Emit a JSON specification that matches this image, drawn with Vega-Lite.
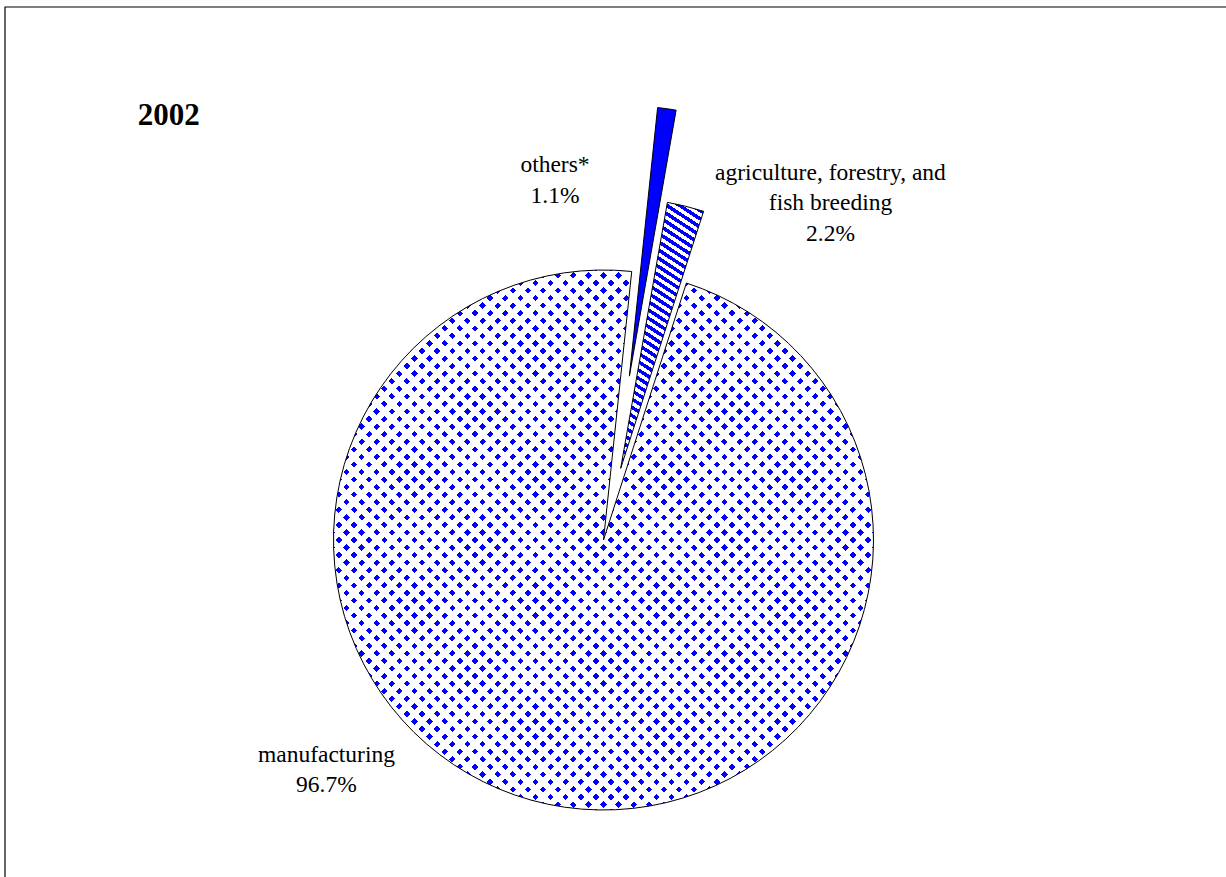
{
"$schema": "https://vega.github.io/schema/vega-lite/v6.json",
"width": 1221,
"height": 870,
"padding": {"left": 5, "top": 7, "right": 0, "bottom": 0},
"autosize": {"type": "none"},
"background": "white",
"config": {"view": {"stroke": null}},
"title": {"text": "2002", "anchor": "start", "frame": "group", "orient": "top", "offset": 0, "baseline": "alphabetic", "dx": 132.7, "dy": 149.7, "font": "Liberation Serif", "fontSize": 31, "fontWeight": "bold", "color": "#000"},
"data": {"values": [
{"category": "others*", "share": 1.1},
{"category": "agriculture, forestry, and fish breeding", "share": 2.2},
{"category": "manufacturing", "share": 96.7}
]},
"transform": [
{"stack": "share", "groupby": [], "sort": [{"field": "share", "order": "ascending"}], "as": ["v0", "v1"]},
{"calculate": "(datum.v0 + datum.v1) / 2", "as": "mid"},
{"calculate": "replace(datum.category, 'and fish', 'and\\nfish') + '\\n' + format(datum.share, '.1f') + '%'", "as": "label"}
],
"layer": [
{
"data": {"values": [{"frame": "border"}]},
"mark": {"type": "rect", "fill": "#fff", "fillOpacity": 0, "stroke": "#000", "strokeWidth": 1.2, "x2Offset": 4, "y2Offset": 4},
"encoding": {
"x": {"value": 0},
"x2": {"value": "width"},
"y": {"value": 0},
"y2": {"value": "height"}
}
},
{
"transform": [{"filter": "datum.category === 'manufacturing'"}],
"mark": {"type": "arc", "radius": 270, "xOffset": -12, "yOffset": 98, "strokeWidth": 0,
"fill": {"gradient": "linear", "x1": 0, "y1": 0, "x2": 1, "y2": 1, "stops": [
{"offset":0,"color":"#00f"},{"offset":0.006,"color":"#00f"},{"offset":0.006,"color":"#fff"},{"offset":0.014,"color":"#fff"},
{"offset":0.014,"color":"#00f"},{"offset":0.02,"color":"#00f"},{"offset":0.02,"color":"#fff"},{"offset":0.028,"color":"#fff"},
{"offset":0.028,"color":"#00f"},{"offset":0.034,"color":"#00f"},{"offset":0.034,"color":"#fff"},{"offset":0.042,"color":"#fff"},
{"offset":0.042,"color":"#00f"},{"offset":0.048,"color":"#00f"},{"offset":0.048,"color":"#fff"},{"offset":0.056,"color":"#fff"},
{"offset":0.056,"color":"#00f"},{"offset":0.062,"color":"#00f"},{"offset":0.062,"color":"#fff"},{"offset":0.07,"color":"#fff"},
{"offset":0.07,"color":"#00f"},{"offset":0.076,"color":"#00f"},{"offset":0.076,"color":"#fff"},{"offset":0.084,"color":"#fff"},
{"offset":0.084,"color":"#00f"},{"offset":0.09,"color":"#00f"},{"offset":0.09,"color":"#fff"},{"offset":0.098,"color":"#fff"},
{"offset":0.098,"color":"#00f"},{"offset":0.104,"color":"#00f"},{"offset":0.104,"color":"#fff"},{"offset":0.112,"color":"#fff"},
{"offset":0.112,"color":"#00f"},{"offset":0.118,"color":"#00f"},{"offset":0.118,"color":"#fff"},{"offset":0.126,"color":"#fff"},
{"offset":0.126,"color":"#00f"},{"offset":0.132,"color":"#00f"},{"offset":0.132,"color":"#fff"},{"offset":0.14,"color":"#fff"},
{"offset":0.14,"color":"#00f"},{"offset":0.146,"color":"#00f"},{"offset":0.146,"color":"#fff"},{"offset":0.154,"color":"#fff"},
{"offset":0.154,"color":"#00f"},{"offset":0.16,"color":"#00f"},{"offset":0.16,"color":"#fff"},{"offset":0.168,"color":"#fff"},
{"offset":0.168,"color":"#00f"},{"offset":0.174,"color":"#00f"},{"offset":0.174,"color":"#fff"},{"offset":0.182,"color":"#fff"},
{"offset":0.182,"color":"#00f"},{"offset":0.188,"color":"#00f"},{"offset":0.188,"color":"#fff"},{"offset":0.196,"color":"#fff"},
{"offset":0.196,"color":"#00f"},{"offset":0.202,"color":"#00f"},{"offset":0.202,"color":"#fff"},{"offset":0.21,"color":"#fff"},
{"offset":0.21,"color":"#00f"},{"offset":0.216,"color":"#00f"},{"offset":0.216,"color":"#fff"},{"offset":0.224,"color":"#fff"},
{"offset":0.224,"color":"#00f"},{"offset":0.23,"color":"#00f"},{"offset":0.23,"color":"#fff"},{"offset":0.238,"color":"#fff"},
{"offset":0.238,"color":"#00f"},{"offset":0.244,"color":"#00f"},{"offset":0.244,"color":"#fff"},{"offset":0.252,"color":"#fff"},
{"offset":0.252,"color":"#00f"},{"offset":0.258,"color":"#00f"},{"offset":0.258,"color":"#fff"},{"offset":0.266,"color":"#fff"},
{"offset":0.266,"color":"#00f"},{"offset":0.272,"color":"#00f"},{"offset":0.272,"color":"#fff"},{"offset":0.28,"color":"#fff"},
{"offset":0.28,"color":"#00f"},{"offset":0.286,"color":"#00f"},{"offset":0.286,"color":"#fff"},{"offset":0.294,"color":"#fff"},
{"offset":0.294,"color":"#00f"},{"offset":0.3,"color":"#00f"},{"offset":0.3,"color":"#fff"},{"offset":0.308,"color":"#fff"},
{"offset":0.308,"color":"#00f"},{"offset":0.314,"color":"#00f"},{"offset":0.314,"color":"#fff"},{"offset":0.322,"color":"#fff"},
{"offset":0.322,"color":"#00f"},{"offset":0.328,"color":"#00f"},{"offset":0.328,"color":"#fff"},{"offset":0.336,"color":"#fff"},
{"offset":0.336,"color":"#00f"},{"offset":0.342,"color":"#00f"},{"offset":0.342,"color":"#fff"},{"offset":0.35,"color":"#fff"},
{"offset":0.35,"color":"#00f"},{"offset":0.356,"color":"#00f"},{"offset":0.356,"color":"#fff"},{"offset":0.364,"color":"#fff"},
{"offset":0.364,"color":"#00f"},{"offset":0.37,"color":"#00f"},{"offset":0.37,"color":"#fff"},{"offset":0.378,"color":"#fff"},
{"offset":0.378,"color":"#00f"},{"offset":0.384,"color":"#00f"},{"offset":0.384,"color":"#fff"},{"offset":0.392,"color":"#fff"},
{"offset":0.392,"color":"#00f"},{"offset":0.398,"color":"#00f"},{"offset":0.398,"color":"#fff"},{"offset":0.406,"color":"#fff"},
{"offset":0.406,"color":"#00f"},{"offset":0.412,"color":"#00f"},{"offset":0.412,"color":"#fff"},{"offset":0.42,"color":"#fff"},
{"offset":0.42,"color":"#00f"},{"offset":0.426,"color":"#00f"},{"offset":0.426,"color":"#fff"},{"offset":0.434,"color":"#fff"},
{"offset":0.434,"color":"#00f"},{"offset":0.44,"color":"#00f"},{"offset":0.44,"color":"#fff"},{"offset":0.448,"color":"#fff"},
{"offset":0.448,"color":"#00f"},{"offset":0.454,"color":"#00f"},{"offset":0.454,"color":"#fff"},{"offset":0.462,"color":"#fff"},
{"offset":0.462,"color":"#00f"},{"offset":0.468,"color":"#00f"},{"offset":0.468,"color":"#fff"},{"offset":0.476,"color":"#fff"},
{"offset":0.476,"color":"#00f"},{"offset":0.482,"color":"#00f"},{"offset":0.482,"color":"#fff"},{"offset":0.49,"color":"#fff"},
{"offset":0.49,"color":"#00f"},{"offset":0.496,"color":"#00f"},{"offset":0.496,"color":"#fff"},{"offset":0.504,"color":"#fff"},
{"offset":0.504,"color":"#00f"},{"offset":0.51,"color":"#00f"},{"offset":0.51,"color":"#fff"},{"offset":0.518,"color":"#fff"},
{"offset":0.518,"color":"#00f"},{"offset":0.524,"color":"#00f"},{"offset":0.524,"color":"#fff"},{"offset":0.532,"color":"#fff"},
{"offset":0.532,"color":"#00f"},{"offset":0.538,"color":"#00f"},{"offset":0.538,"color":"#fff"},{"offset":0.546,"color":"#fff"},
{"offset":0.546,"color":"#00f"},{"offset":0.552,"color":"#00f"},{"offset":0.552,"color":"#fff"},{"offset":0.56,"color":"#fff"},
{"offset":0.56,"color":"#00f"},{"offset":0.566,"color":"#00f"},{"offset":0.566,"color":"#fff"},{"offset":0.574,"color":"#fff"},
{"offset":0.574,"color":"#00f"},{"offset":0.58,"color":"#00f"},{"offset":0.58,"color":"#fff"},{"offset":0.588,"color":"#fff"},
{"offset":0.588,"color":"#00f"},{"offset":0.594,"color":"#00f"},{"offset":0.594,"color":"#fff"},{"offset":0.602,"color":"#fff"},
{"offset":0.602,"color":"#00f"},{"offset":0.608,"color":"#00f"},{"offset":0.608,"color":"#fff"},{"offset":0.616,"color":"#fff"},
{"offset":0.616,"color":"#00f"},{"offset":0.622,"color":"#00f"},{"offset":0.622,"color":"#fff"},{"offset":0.63,"color":"#fff"},
{"offset":0.63,"color":"#00f"},{"offset":0.636,"color":"#00f"},{"offset":0.636,"color":"#fff"},{"offset":0.644,"color":"#fff"},
{"offset":0.644,"color":"#00f"},{"offset":0.65,"color":"#00f"},{"offset":0.65,"color":"#fff"},{"offset":0.658,"color":"#fff"},
{"offset":0.658,"color":"#00f"},{"offset":0.664,"color":"#00f"},{"offset":0.664,"color":"#fff"},{"offset":0.672,"color":"#fff"},
{"offset":0.672,"color":"#00f"},{"offset":0.678,"color":"#00f"},{"offset":0.678,"color":"#fff"},{"offset":0.686,"color":"#fff"},
{"offset":0.686,"color":"#00f"},{"offset":0.692,"color":"#00f"},{"offset":0.692,"color":"#fff"},{"offset":0.7,"color":"#fff"},
{"offset":0.7,"color":"#00f"},{"offset":0.706,"color":"#00f"},{"offset":0.706,"color":"#fff"},{"offset":0.714,"color":"#fff"},
{"offset":0.714,"color":"#00f"},{"offset":0.72,"color":"#00f"},{"offset":0.72,"color":"#fff"},{"offset":0.728,"color":"#fff"},
{"offset":0.728,"color":"#00f"},{"offset":0.734,"color":"#00f"},{"offset":0.734,"color":"#fff"},{"offset":0.742,"color":"#fff"},
{"offset":0.742,"color":"#00f"},{"offset":0.748,"color":"#00f"},{"offset":0.748,"color":"#fff"},{"offset":0.756,"color":"#fff"},
{"offset":0.756,"color":"#00f"},{"offset":0.762,"color":"#00f"},{"offset":0.762,"color":"#fff"},{"offset":0.77,"color":"#fff"},
{"offset":0.77,"color":"#00f"},{"offset":0.776,"color":"#00f"},{"offset":0.776,"color":"#fff"},{"offset":0.784,"color":"#fff"},
{"offset":0.784,"color":"#00f"},{"offset":0.79,"color":"#00f"},{"offset":0.79,"color":"#fff"},{"offset":0.798,"color":"#fff"},
{"offset":0.798,"color":"#00f"},{"offset":0.804,"color":"#00f"},{"offset":0.804,"color":"#fff"},{"offset":0.812,"color":"#fff"},
{"offset":0.812,"color":"#00f"},{"offset":0.818,"color":"#00f"},{"offset":0.818,"color":"#fff"},{"offset":0.826,"color":"#fff"},
{"offset":0.826,"color":"#00f"},{"offset":0.832,"color":"#00f"},{"offset":0.832,"color":"#fff"},{"offset":0.84,"color":"#fff"},
{"offset":0.84,"color":"#00f"},{"offset":0.846,"color":"#00f"},{"offset":0.846,"color":"#fff"},{"offset":0.854,"color":"#fff"},
{"offset":0.854,"color":"#00f"},{"offset":0.86,"color":"#00f"},{"offset":0.86,"color":"#fff"},{"offset":0.868,"color":"#fff"},
{"offset":0.868,"color":"#00f"},{"offset":0.874,"color":"#00f"},{"offset":0.874,"color":"#fff"},{"offset":0.882,"color":"#fff"},
{"offset":0.882,"color":"#00f"},{"offset":0.888,"color":"#00f"},{"offset":0.888,"color":"#fff"},{"offset":0.896,"color":"#fff"},
{"offset":0.896,"color":"#00f"},{"offset":0.902,"color":"#00f"},{"offset":0.902,"color":"#fff"},{"offset":0.91,"color":"#fff"},
{"offset":0.91,"color":"#00f"},{"offset":0.916,"color":"#00f"},{"offset":0.916,"color":"#fff"},{"offset":0.924,"color":"#fff"},
{"offset":0.924,"color":"#00f"},{"offset":0.93,"color":"#00f"},{"offset":0.93,"color":"#fff"},{"offset":0.938,"color":"#fff"},
{"offset":0.938,"color":"#00f"},{"offset":0.944,"color":"#00f"},{"offset":0.944,"color":"#fff"},{"offset":0.952,"color":"#fff"},
{"offset":0.952,"color":"#00f"},{"offset":0.958,"color":"#00f"},{"offset":0.958,"color":"#fff"},{"offset":0.966,"color":"#fff"},
{"offset":0.966,"color":"#00f"},{"offset":0.972,"color":"#00f"},{"offset":0.972,"color":"#fff"},{"offset":0.98,"color":"#fff"},
{"offset":0.98,"color":"#00f"},{"offset":0.986,"color":"#00f"},{"offset":0.986,"color":"#fff"},{"offset":0.994,"color":"#fff"},
{"offset":0.994,"color":"#00f"},{"offset":1,"color":"#00f"}
]}},
"encoding": {
"theta": {"field": "v0", "type": "quantitative", "stack": null, "scale": {"domain": [0, 100], "range": [0.10472, 6.38791]}},
"theta2": {"field": "v1"}
}
},
{
"transform": [{"filter": "datum.category === 'manufacturing'"}],
"mark": {"type": "arc", "radius": 270, "xOffset": -12, "yOffset": 98, "stroke": "#000", "strokeWidth": 1,
"fill": {"gradient": "linear", "x1": 1, "y1": 0, "x2": 0, "y2": 1, "stops": [
{"offset":0,"color":"rgba(255,255,255,0)"},{"offset":0.006,"color":"rgba(255,255,255,0)"},{"offset":0.006,"color":"#fff"},{"offset":0.014,"color":"#fff"},
{"offset":0.014,"color":"rgba(255,255,255,0)"},{"offset":0.02,"color":"rgba(255,255,255,0)"},{"offset":0.02,"color":"#fff"},{"offset":0.028,"color":"#fff"},
{"offset":0.028,"color":"rgba(255,255,255,0)"},{"offset":0.034,"color":"rgba(255,255,255,0)"},{"offset":0.034,"color":"#fff"},{"offset":0.042,"color":"#fff"},
{"offset":0.042,"color":"rgba(255,255,255,0)"},{"offset":0.048,"color":"rgba(255,255,255,0)"},{"offset":0.048,"color":"#fff"},{"offset":0.056,"color":"#fff"},
{"offset":0.056,"color":"rgba(255,255,255,0)"},{"offset":0.062,"color":"rgba(255,255,255,0)"},{"offset":0.062,"color":"#fff"},{"offset":0.07,"color":"#fff"},
{"offset":0.07,"color":"rgba(255,255,255,0)"},{"offset":0.076,"color":"rgba(255,255,255,0)"},{"offset":0.076,"color":"#fff"},{"offset":0.084,"color":"#fff"},
{"offset":0.084,"color":"rgba(255,255,255,0)"},{"offset":0.09,"color":"rgba(255,255,255,0)"},{"offset":0.09,"color":"#fff"},{"offset":0.098,"color":"#fff"},
{"offset":0.098,"color":"rgba(255,255,255,0)"},{"offset":0.104,"color":"rgba(255,255,255,0)"},{"offset":0.104,"color":"#fff"},{"offset":0.112,"color":"#fff"},
{"offset":0.112,"color":"rgba(255,255,255,0)"},{"offset":0.118,"color":"rgba(255,255,255,0)"},{"offset":0.118,"color":"#fff"},{"offset":0.126,"color":"#fff"},
{"offset":0.126,"color":"rgba(255,255,255,0)"},{"offset":0.132,"color":"rgba(255,255,255,0)"},{"offset":0.132,"color":"#fff"},{"offset":0.14,"color":"#fff"},
{"offset":0.14,"color":"rgba(255,255,255,0)"},{"offset":0.146,"color":"rgba(255,255,255,0)"},{"offset":0.146,"color":"#fff"},{"offset":0.154,"color":"#fff"},
{"offset":0.154,"color":"rgba(255,255,255,0)"},{"offset":0.16,"color":"rgba(255,255,255,0)"},{"offset":0.16,"color":"#fff"},{"offset":0.168,"color":"#fff"},
{"offset":0.168,"color":"rgba(255,255,255,0)"},{"offset":0.174,"color":"rgba(255,255,255,0)"},{"offset":0.174,"color":"#fff"},{"offset":0.182,"color":"#fff"},
{"offset":0.182,"color":"rgba(255,255,255,0)"},{"offset":0.188,"color":"rgba(255,255,255,0)"},{"offset":0.188,"color":"#fff"},{"offset":0.196,"color":"#fff"},
{"offset":0.196,"color":"rgba(255,255,255,0)"},{"offset":0.202,"color":"rgba(255,255,255,0)"},{"offset":0.202,"color":"#fff"},{"offset":0.21,"color":"#fff"},
{"offset":0.21,"color":"rgba(255,255,255,0)"},{"offset":0.216,"color":"rgba(255,255,255,0)"},{"offset":0.216,"color":"#fff"},{"offset":0.224,"color":"#fff"},
{"offset":0.224,"color":"rgba(255,255,255,0)"},{"offset":0.23,"color":"rgba(255,255,255,0)"},{"offset":0.23,"color":"#fff"},{"offset":0.238,"color":"#fff"},
{"offset":0.238,"color":"rgba(255,255,255,0)"},{"offset":0.244,"color":"rgba(255,255,255,0)"},{"offset":0.244,"color":"#fff"},{"offset":0.252,"color":"#fff"},
{"offset":0.252,"color":"rgba(255,255,255,0)"},{"offset":0.258,"color":"rgba(255,255,255,0)"},{"offset":0.258,"color":"#fff"},{"offset":0.266,"color":"#fff"},
{"offset":0.266,"color":"rgba(255,255,255,0)"},{"offset":0.272,"color":"rgba(255,255,255,0)"},{"offset":0.272,"color":"#fff"},{"offset":0.28,"color":"#fff"},
{"offset":0.28,"color":"rgba(255,255,255,0)"},{"offset":0.286,"color":"rgba(255,255,255,0)"},{"offset":0.286,"color":"#fff"},{"offset":0.294,"color":"#fff"},
{"offset":0.294,"color":"rgba(255,255,255,0)"},{"offset":0.3,"color":"rgba(255,255,255,0)"},{"offset":0.3,"color":"#fff"},{"offset":0.308,"color":"#fff"},
{"offset":0.308,"color":"rgba(255,255,255,0)"},{"offset":0.314,"color":"rgba(255,255,255,0)"},{"offset":0.314,"color":"#fff"},{"offset":0.322,"color":"#fff"},
{"offset":0.322,"color":"rgba(255,255,255,0)"},{"offset":0.328,"color":"rgba(255,255,255,0)"},{"offset":0.328,"color":"#fff"},{"offset":0.336,"color":"#fff"},
{"offset":0.336,"color":"rgba(255,255,255,0)"},{"offset":0.342,"color":"rgba(255,255,255,0)"},{"offset":0.342,"color":"#fff"},{"offset":0.35,"color":"#fff"},
{"offset":0.35,"color":"rgba(255,255,255,0)"},{"offset":0.356,"color":"rgba(255,255,255,0)"},{"offset":0.356,"color":"#fff"},{"offset":0.364,"color":"#fff"},
{"offset":0.364,"color":"rgba(255,255,255,0)"},{"offset":0.37,"color":"rgba(255,255,255,0)"},{"offset":0.37,"color":"#fff"},{"offset":0.378,"color":"#fff"},
{"offset":0.378,"color":"rgba(255,255,255,0)"},{"offset":0.384,"color":"rgba(255,255,255,0)"},{"offset":0.384,"color":"#fff"},{"offset":0.392,"color":"#fff"},
{"offset":0.392,"color":"rgba(255,255,255,0)"},{"offset":0.398,"color":"rgba(255,255,255,0)"},{"offset":0.398,"color":"#fff"},{"offset":0.406,"color":"#fff"},
{"offset":0.406,"color":"rgba(255,255,255,0)"},{"offset":0.412,"color":"rgba(255,255,255,0)"},{"offset":0.412,"color":"#fff"},{"offset":0.42,"color":"#fff"},
{"offset":0.42,"color":"rgba(255,255,255,0)"},{"offset":0.426,"color":"rgba(255,255,255,0)"},{"offset":0.426,"color":"#fff"},{"offset":0.434,"color":"#fff"},
{"offset":0.434,"color":"rgba(255,255,255,0)"},{"offset":0.44,"color":"rgba(255,255,255,0)"},{"offset":0.44,"color":"#fff"},{"offset":0.448,"color":"#fff"},
{"offset":0.448,"color":"rgba(255,255,255,0)"},{"offset":0.454,"color":"rgba(255,255,255,0)"},{"offset":0.454,"color":"#fff"},{"offset":0.462,"color":"#fff"},
{"offset":0.462,"color":"rgba(255,255,255,0)"},{"offset":0.468,"color":"rgba(255,255,255,0)"},{"offset":0.468,"color":"#fff"},{"offset":0.476,"color":"#fff"},
{"offset":0.476,"color":"rgba(255,255,255,0)"},{"offset":0.482,"color":"rgba(255,255,255,0)"},{"offset":0.482,"color":"#fff"},{"offset":0.49,"color":"#fff"},
{"offset":0.49,"color":"rgba(255,255,255,0)"},{"offset":0.496,"color":"rgba(255,255,255,0)"},{"offset":0.496,"color":"#fff"},{"offset":0.504,"color":"#fff"},
{"offset":0.504,"color":"rgba(255,255,255,0)"},{"offset":0.51,"color":"rgba(255,255,255,0)"},{"offset":0.51,"color":"#fff"},{"offset":0.518,"color":"#fff"},
{"offset":0.518,"color":"rgba(255,255,255,0)"},{"offset":0.524,"color":"rgba(255,255,255,0)"},{"offset":0.524,"color":"#fff"},{"offset":0.532,"color":"#fff"},
{"offset":0.532,"color":"rgba(255,255,255,0)"},{"offset":0.538,"color":"rgba(255,255,255,0)"},{"offset":0.538,"color":"#fff"},{"offset":0.546,"color":"#fff"},
{"offset":0.546,"color":"rgba(255,255,255,0)"},{"offset":0.552,"color":"rgba(255,255,255,0)"},{"offset":0.552,"color":"#fff"},{"offset":0.56,"color":"#fff"},
{"offset":0.56,"color":"rgba(255,255,255,0)"},{"offset":0.566,"color":"rgba(255,255,255,0)"},{"offset":0.566,"color":"#fff"},{"offset":0.574,"color":"#fff"},
{"offset":0.574,"color":"rgba(255,255,255,0)"},{"offset":0.58,"color":"rgba(255,255,255,0)"},{"offset":0.58,"color":"#fff"},{"offset":0.588,"color":"#fff"},
{"offset":0.588,"color":"rgba(255,255,255,0)"},{"offset":0.594,"color":"rgba(255,255,255,0)"},{"offset":0.594,"color":"#fff"},{"offset":0.602,"color":"#fff"},
{"offset":0.602,"color":"rgba(255,255,255,0)"},{"offset":0.608,"color":"rgba(255,255,255,0)"},{"offset":0.608,"color":"#fff"},{"offset":0.616,"color":"#fff"},
{"offset":0.616,"color":"rgba(255,255,255,0)"},{"offset":0.622,"color":"rgba(255,255,255,0)"},{"offset":0.622,"color":"#fff"},{"offset":0.63,"color":"#fff"},
{"offset":0.63,"color":"rgba(255,255,255,0)"},{"offset":0.636,"color":"rgba(255,255,255,0)"},{"offset":0.636,"color":"#fff"},{"offset":0.644,"color":"#fff"},
{"offset":0.644,"color":"rgba(255,255,255,0)"},{"offset":0.65,"color":"rgba(255,255,255,0)"},{"offset":0.65,"color":"#fff"},{"offset":0.658,"color":"#fff"},
{"offset":0.658,"color":"rgba(255,255,255,0)"},{"offset":0.664,"color":"rgba(255,255,255,0)"},{"offset":0.664,"color":"#fff"},{"offset":0.672,"color":"#fff"},
{"offset":0.672,"color":"rgba(255,255,255,0)"},{"offset":0.678,"color":"rgba(255,255,255,0)"},{"offset":0.678,"color":"#fff"},{"offset":0.686,"color":"#fff"},
{"offset":0.686,"color":"rgba(255,255,255,0)"},{"offset":0.692,"color":"rgba(255,255,255,0)"},{"offset":0.692,"color":"#fff"},{"offset":0.7,"color":"#fff"},
{"offset":0.7,"color":"rgba(255,255,255,0)"},{"offset":0.706,"color":"rgba(255,255,255,0)"},{"offset":0.706,"color":"#fff"},{"offset":0.714,"color":"#fff"},
{"offset":0.714,"color":"rgba(255,255,255,0)"},{"offset":0.72,"color":"rgba(255,255,255,0)"},{"offset":0.72,"color":"#fff"},{"offset":0.728,"color":"#fff"},
{"offset":0.728,"color":"rgba(255,255,255,0)"},{"offset":0.734,"color":"rgba(255,255,255,0)"},{"offset":0.734,"color":"#fff"},{"offset":0.742,"color":"#fff"},
{"offset":0.742,"color":"rgba(255,255,255,0)"},{"offset":0.748,"color":"rgba(255,255,255,0)"},{"offset":0.748,"color":"#fff"},{"offset":0.756,"color":"#fff"},
{"offset":0.756,"color":"rgba(255,255,255,0)"},{"offset":0.762,"color":"rgba(255,255,255,0)"},{"offset":0.762,"color":"#fff"},{"offset":0.77,"color":"#fff"},
{"offset":0.77,"color":"rgba(255,255,255,0)"},{"offset":0.776,"color":"rgba(255,255,255,0)"},{"offset":0.776,"color":"#fff"},{"offset":0.784,"color":"#fff"},
{"offset":0.784,"color":"rgba(255,255,255,0)"},{"offset":0.79,"color":"rgba(255,255,255,0)"},{"offset":0.79,"color":"#fff"},{"offset":0.798,"color":"#fff"},
{"offset":0.798,"color":"rgba(255,255,255,0)"},{"offset":0.804,"color":"rgba(255,255,255,0)"},{"offset":0.804,"color":"#fff"},{"offset":0.812,"color":"#fff"},
{"offset":0.812,"color":"rgba(255,255,255,0)"},{"offset":0.818,"color":"rgba(255,255,255,0)"},{"offset":0.818,"color":"#fff"},{"offset":0.826,"color":"#fff"},
{"offset":0.826,"color":"rgba(255,255,255,0)"},{"offset":0.832,"color":"rgba(255,255,255,0)"},{"offset":0.832,"color":"#fff"},{"offset":0.84,"color":"#fff"},
{"offset":0.84,"color":"rgba(255,255,255,0)"},{"offset":0.846,"color":"rgba(255,255,255,0)"},{"offset":0.846,"color":"#fff"},{"offset":0.854,"color":"#fff"},
{"offset":0.854,"color":"rgba(255,255,255,0)"},{"offset":0.86,"color":"rgba(255,255,255,0)"},{"offset":0.86,"color":"#fff"},{"offset":0.868,"color":"#fff"},
{"offset":0.868,"color":"rgba(255,255,255,0)"},{"offset":0.874,"color":"rgba(255,255,255,0)"},{"offset":0.874,"color":"#fff"},{"offset":0.882,"color":"#fff"},
{"offset":0.882,"color":"rgba(255,255,255,0)"},{"offset":0.888,"color":"rgba(255,255,255,0)"},{"offset":0.888,"color":"#fff"},{"offset":0.896,"color":"#fff"},
{"offset":0.896,"color":"rgba(255,255,255,0)"},{"offset":0.902,"color":"rgba(255,255,255,0)"},{"offset":0.902,"color":"#fff"},{"offset":0.91,"color":"#fff"},
{"offset":0.91,"color":"rgba(255,255,255,0)"},{"offset":0.916,"color":"rgba(255,255,255,0)"},{"offset":0.916,"color":"#fff"},{"offset":0.924,"color":"#fff"},
{"offset":0.924,"color":"rgba(255,255,255,0)"},{"offset":0.93,"color":"rgba(255,255,255,0)"},{"offset":0.93,"color":"#fff"},{"offset":0.938,"color":"#fff"},
{"offset":0.938,"color":"rgba(255,255,255,0)"},{"offset":0.944,"color":"rgba(255,255,255,0)"},{"offset":0.944,"color":"#fff"},{"offset":0.952,"color":"#fff"},
{"offset":0.952,"color":"rgba(255,255,255,0)"},{"offset":0.958,"color":"rgba(255,255,255,0)"},{"offset":0.958,"color":"#fff"},{"offset":0.966,"color":"#fff"},
{"offset":0.966,"color":"rgba(255,255,255,0)"},{"offset":0.972,"color":"rgba(255,255,255,0)"},{"offset":0.972,"color":"#fff"},{"offset":0.98,"color":"#fff"},
{"offset":0.98,"color":"rgba(255,255,255,0)"},{"offset":0.986,"color":"rgba(255,255,255,0)"},{"offset":0.986,"color":"#fff"},{"offset":0.994,"color":"#fff"},
{"offset":0.994,"color":"rgba(255,255,255,0)"},{"offset":1,"color":"rgba(255,255,255,0)"}
]}},
"encoding": {
"theta": {"field": "v0", "type": "quantitative", "stack": null, "scale": {"domain": [0, 100], "range": [0.10472, 6.38791]}},
"theta2": {"field": "v1"}
}
},
{
"transform": [{"filter": "datum.category === 'others*'"}],
"mark": {"type": "arc", "radius": 270, "xOffset": 13.9, "yOffset": -65.9, "stroke": "#000", "strokeWidth": 1, "fill": "#0000ff"},
"encoding": {
"theta": {"field": "v0", "type": "quantitative", "stack": null, "scale": {"domain": [0, 100], "range": [0.10472, 6.38791]}},
"theta2": {"field": "v1"}
}
},
{
"transform": [{"filter": "datum.category === 'agriculture, forestry, and fish breeding'"}],
"mark": {"type": "arc", "radius": 270, "xOffset": 5.2, "yOffset": 26.3, "stroke": "#000", "strokeWidth": 1,
"fill": {"gradient": "linear", "x1": 1, "y1": 0, "x2": 0.7658, "y2": 1.1552, "stops": [
{"offset":0,"color":"#00f"},{"offset":0.013,"color":"#00f"},{"offset":0.013,"color":"#fff"},{"offset":0.026,"color":"#fff"},
{"offset":0.026,"color":"#00f"},{"offset":0.039,"color":"#00f"},{"offset":0.039,"color":"#fff"},{"offset":0.052,"color":"#fff"},
{"offset":0.052,"color":"#00f"},{"offset":0.065,"color":"#00f"},{"offset":0.065,"color":"#fff"},{"offset":0.078,"color":"#fff"},
{"offset":0.078,"color":"#00f"},{"offset":0.091,"color":"#00f"},{"offset":0.091,"color":"#fff"},{"offset":0.104,"color":"#fff"},
{"offset":0.104,"color":"#00f"},{"offset":0.117,"color":"#00f"},{"offset":0.117,"color":"#fff"},{"offset":0.13,"color":"#fff"},
{"offset":0.13,"color":"#00f"},{"offset":0.143,"color":"#00f"},{"offset":0.143,"color":"#fff"},{"offset":0.156,"color":"#fff"},
{"offset":0.156,"color":"#00f"},{"offset":0.169,"color":"#00f"},{"offset":0.169,"color":"#fff"},{"offset":0.182,"color":"#fff"},
{"offset":0.182,"color":"#00f"},{"offset":0.195,"color":"#00f"},{"offset":0.195,"color":"#fff"},{"offset":0.208,"color":"#fff"},
{"offset":0.208,"color":"#00f"},{"offset":0.221,"color":"#00f"},{"offset":0.221,"color":"#fff"},{"offset":0.234,"color":"#fff"},
{"offset":0.234,"color":"#00f"},{"offset":0.247,"color":"#00f"},{"offset":0.247,"color":"#fff"},{"offset":0.26,"color":"#fff"},
{"offset":0.26,"color":"#00f"},{"offset":0.273,"color":"#00f"},{"offset":0.273,"color":"#fff"},{"offset":0.286,"color":"#fff"},
{"offset":0.286,"color":"#00f"},{"offset":0.299,"color":"#00f"},{"offset":0.299,"color":"#fff"},{"offset":0.312,"color":"#fff"},
{"offset":0.312,"color":"#00f"},{"offset":0.325,"color":"#00f"},{"offset":0.325,"color":"#fff"},{"offset":0.338,"color":"#fff"},
{"offset":0.338,"color":"#00f"},{"offset":0.351,"color":"#00f"},{"offset":0.351,"color":"#fff"},{"offset":0.364,"color":"#fff"},
{"offset":0.364,"color":"#00f"},{"offset":0.377,"color":"#00f"},{"offset":0.377,"color":"#fff"},{"offset":0.39,"color":"#fff"},
{"offset":0.39,"color":"#00f"},{"offset":0.403,"color":"#00f"},{"offset":0.403,"color":"#fff"},{"offset":0.416,"color":"#fff"},
{"offset":0.416,"color":"#00f"},{"offset":0.429,"color":"#00f"},{"offset":0.429,"color":"#fff"},{"offset":0.442,"color":"#fff"},
{"offset":0.442,"color":"#00f"},{"offset":0.455,"color":"#00f"},{"offset":0.455,"color":"#fff"},{"offset":0.468,"color":"#fff"},
{"offset":0.468,"color":"#00f"},{"offset":0.481,"color":"#00f"},{"offset":0.481,"color":"#fff"},{"offset":0.494,"color":"#fff"},
{"offset":0.494,"color":"#00f"},{"offset":0.507,"color":"#00f"},{"offset":0.507,"color":"#fff"},{"offset":0.52,"color":"#fff"},
{"offset":0.52,"color":"#00f"},{"offset":0.533,"color":"#00f"},{"offset":0.533,"color":"#fff"},{"offset":0.546,"color":"#fff"},
{"offset":0.546,"color":"#00f"},{"offset":0.559,"color":"#00f"},{"offset":0.559,"color":"#fff"},{"offset":0.572,"color":"#fff"},
{"offset":0.572,"color":"#00f"},{"offset":0.585,"color":"#00f"},{"offset":0.585,"color":"#fff"},{"offset":0.598,"color":"#fff"},
{"offset":0.598,"color":"#00f"},{"offset":0.611,"color":"#00f"},{"offset":0.611,"color":"#fff"},{"offset":0.624,"color":"#fff"},
{"offset":0.624,"color":"#00f"},{"offset":0.637,"color":"#00f"},{"offset":0.637,"color":"#fff"},{"offset":0.65,"color":"#fff"},
{"offset":0.65,"color":"#00f"},{"offset":0.663,"color":"#00f"},{"offset":0.663,"color":"#fff"},{"offset":0.676,"color":"#fff"},
{"offset":0.676,"color":"#00f"},{"offset":0.689,"color":"#00f"},{"offset":0.689,"color":"#fff"},{"offset":0.702,"color":"#fff"},
{"offset":0.702,"color":"#00f"},{"offset":0.715,"color":"#00f"},{"offset":0.715,"color":"#fff"},{"offset":0.728,"color":"#fff"},
{"offset":0.728,"color":"#00f"},{"offset":0.741,"color":"#00f"},{"offset":0.741,"color":"#fff"},{"offset":0.754,"color":"#fff"},
{"offset":0.754,"color":"#00f"},{"offset":0.767,"color":"#00f"},{"offset":0.767,"color":"#fff"},{"offset":0.78,"color":"#fff"},
{"offset":0.78,"color":"#00f"},{"offset":0.793,"color":"#00f"},{"offset":0.793,"color":"#fff"},{"offset":0.806,"color":"#fff"},
{"offset":0.806,"color":"#00f"},{"offset":0.819,"color":"#00f"},{"offset":0.819,"color":"#fff"},{"offset":0.832,"color":"#fff"},
{"offset":0.832,"color":"#00f"},{"offset":0.845,"color":"#00f"},{"offset":0.845,"color":"#fff"},{"offset":0.858,"color":"#fff"},
{"offset":0.858,"color":"#00f"},{"offset":0.871,"color":"#00f"},{"offset":0.871,"color":"#fff"},{"offset":0.884,"color":"#fff"},
{"offset":0.884,"color":"#00f"},{"offset":0.897,"color":"#00f"},{"offset":0.897,"color":"#fff"},{"offset":0.91,"color":"#fff"},
{"offset":0.91,"color":"#00f"},{"offset":0.923,"color":"#00f"},{"offset":0.923,"color":"#fff"},{"offset":0.936,"color":"#fff"},
{"offset":0.936,"color":"#00f"},{"offset":0.949,"color":"#00f"},{"offset":0.949,"color":"#fff"},{"offset":0.962,"color":"#fff"},
{"offset":0.962,"color":"#00f"},{"offset":0.975,"color":"#00f"},{"offset":0.975,"color":"#fff"},{"offset":0.988,"color":"#fff"},
{"offset":0.988,"color":"#00f"},{"offset":1,"color":"#00f"}
]}},
"encoding": {
"theta": {"field": "v0", "type": "quantitative", "stack": null, "scale": {"domain": [0, 100], "range": [0.10472, 6.38791]}},
"theta2": {"field": "v1"}
}
},
{
"transform": [{"filter": "datum.category === 'others*'"}],
"mark": {"type": "text", "align": "center", "baseline": "alphabetic", "font": "Liberation Serif", "fontSize": 23.5, "lineBreak": "\n", "lineHeight": 31, "color": "#000", "xOffset": -12, "yOffset": 98, "dx": -100, "dy": -1},
"encoding": {
"theta": {"field": "mid", "type": "quantitative", "stack": null, "scale": {"domain": [0, 100], "range": [0.10472, 6.38791]}},
"radius": {"value": 371},
"text": {"field": "label"}
}
},
{
"transform": [{"filter": "datum.category === 'agriculture, forestry, and fish breeding'"}],
"mark": {"type": "text", "align": "center", "baseline": "alphabetic", "font": "Liberation Serif", "fontSize": 23.5, "lineBreak": "\n", "lineHeight": 30.5, "color": "#000", "xOffset": -12, "yOffset": 98, "dx": 137.5, "dy": 1},
"encoding": {
"theta": {"field": "mid", "type": "quantitative", "stack": null, "scale": {"domain": [0, 100], "range": [0.10472, 6.38791]}},
"radius": {"value": 372},
"text": {"field": "label"}
}
},
{
"transform": [{"filter": "datum.category === 'manufacturing'"}],
"mark": {"type": "text", "align": "center", "baseline": "alphabetic", "font": "Liberation Serif", "fontSize": 23.5, "lineBreak": "\n", "lineHeight": 30, "color": "#000", "xOffset": -12, "yOffset": 98, "dx": -215, "dy": -72},
"encoding": {
"theta": {"field": "mid", "type": "quantitative", "stack": null, "scale": {"domain": [0, 100], "range": [0.10472, 6.38791]}},
"radius": {"value": 300},
"text": {"field": "label"}
}
}
]
}
